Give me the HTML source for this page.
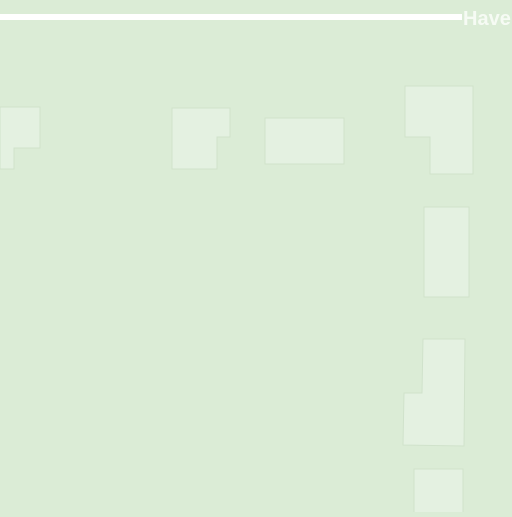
<!DOCTYPE html>
<html><head><style>
html,body{margin:0;padding:0;}
body{width:512px;height:512px;overflow:hidden;background:#dbecd6;}
</style></head><body>
<svg width="512" height="512" xmlns="http://www.w3.org/2000/svg">
<rect width="512" height="512" fill="#dbecd6"/>
<g fill="#e4f1e1" stroke="#d0e2cb" stroke-width="1">
<polygon points="0,107 40,107 40,148 14,148 14,169 0,169"/>
<polygon points="172,108 230,108 230,137 217,137 217,169 172,169"/>
<rect x="265" y="118" width="79" height="46"/>
<polygon points="405,86 473,86 473,174 430,174 430,137 405,137"/>
<rect x="424" y="207" width="45" height="90"/>
<polygon points="423,339 465,339 464,446 403,445 404,393 422,393"/>
<rect x="414" y="469" width="49" height="50"/>
</g>
<rect x="0" y="14" width="462" height="6" fill="#ffffff"/>
<text x="463" y="25" font-family="Liberation Sans, sans-serif" font-weight="bold" font-size="20" fill="#f6fbf4">Haven</text>
</svg>
</body></html>
